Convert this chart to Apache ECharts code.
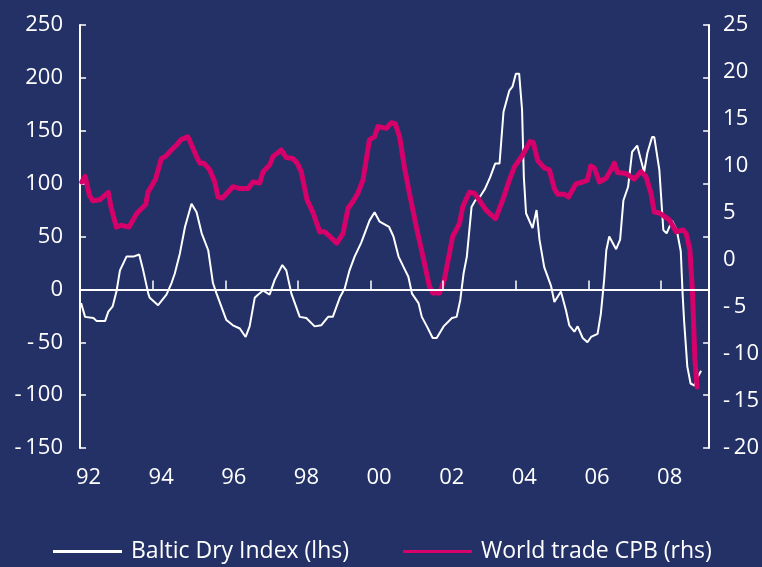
<!DOCTYPE html>
<html>
<head>
<meta charset="utf-8">
<script src="https://cdn.jsdelivr.net/npm/echarts@6/dist/echarts.min.js"></script>
<style>
  html, body { margin: 0; padding: 0; background: #243167; }
  #chart { width: 762px; height: 567px; }
</style>
</head>
<body>
<div id="chart"></div>
<script>
// Baltic Dry Index, % y/y (left axis)
const bdiYears = [1992.03,1992.14,1992.37,1992.46,1992.69,1992.78,1992.90,1993.01,1993.10,1993.28,
  1993.47,1993.63,1993.74,1993.88,1993.92,1994.15,1994.38,1994.52,1994.61,1994.75,
  1994.89,1995.07,1995.21,1995.35,1995.53,1995.66,1995.76,1996.03,1996.21,1996.40,
  1996.56,1996.67,1996.81,1996.90,1997.04,1997.22,1997.36,1997.57,1997.68,1997.82,
  1998.05,1998.23,1998.46,1998.64,1998.83,1998.96,1999.15,1999.29,1999.42,1999.56,
  1999.74,1999.97,2000.11,2000.25,2000.51,2000.63,2000.77,2000.91,2001.04,2001.14,
  2001.32,2001.41,2001.55,2001.71,2001.82,2002.01,2002.24,2002.37,2002.47,2002.56,
  2002.65,2002.78,2002.88,2003.02,2003.15,2003.29,2003.43,2003.55,2003.66,2003.82,
  2003.91,2004.00,2004.09,2004.17,2004.22,2004.28,2004.46,2004.57,2004.65,2004.78,
  2004.97,2005.06,2005.24,2005.38,2005.47,2005.61,2005.70,2005.84,2005.97,2006.07,
  2006.25,2006.34,2006.43,2006.49,2006.57,2006.76,2006.87,2006.96,2007.09,2007.20,
  2007.34,2007.43,2007.53,2007.62,2007.75,2007.81,2007.95,2008.06,2008.15,2008.30,
  2008.43,2008.54,2008.59,2008.63,2008.72,2008.81,2008.92,2009.00,2009.10];
const bdiValues = [-13,-26,-27,-30,-30,-21,-16,-1,18,31,
  31,33,18,-4,-8,-15,-5,6,15,34,
  59,81,73,53,37,6,-4,-29,-34,-37,
  -45,-35,-8,-5,-1,-5,9,23,18,-4,
  -26,-27,-35,-34,-26,-26,-8,1,18,31,
  44,65,73,64,59,50,31,21,12,-4,
  -13,-26,-35,-46,-46,-35,-27,-26,-10,15,
  31,78,84,88,95,106,119,119,168,188,
  192,204,204,170,106,72,58,75,47,21,
  3,-12,-2,-20,-34,-40,-35,-46,-50,-45,
  -42,-23,9,37,50,38,47,84,97,130,
  136,124,111,129,144,144,113,56,53,65,
  56,36,-4,-29,-73,-89,-91,-83,-77];

// World trade (CPB), % y/y (right axis)
const tradeYears = [1992.05,1992.14,1992.26,1992.35,1992.54,1992.78,1992.85,1993.00,1993.13,1993.35,
  1993.57,1993.81,1993.87,1994.08,1994.24,1994.35,1994.49,1994.65,1994.78,1994.97,
  1995.21,1995.30,1995.41,1995.57,1995.71,1995.80,1995.92,1996.21,1996.40,1996.63,
  1996.76,1996.95,1997.04,1997.22,1997.31,1997.54,1997.68,1997.86,1997.98,1998.09,
  1998.25,1998.41,1998.60,1998.74,1999.07,1999.24,1999.38,1999.51,1999.65,1999.79,
  1999.97,2000.11,2000.20,2000.43,2000.57,2000.68,2000.80,2000.93,2001.07,2001.26,
  2001.44,2001.62,2001.71,2001.90,2002.03,2002.17,2002.26,2002.45,2002.54,2002.72,
  2002.86,2003.18,2003.32,2003.44,2003.64,2003.82,2003.96,2004.19,2004.39,2004.48,
  2004.60,2004.78,2004.92,2005.06,2005.15,2005.33,2005.45,2005.65,2005.84,2005.97,
  2006.06,2006.16,2006.30,2006.48,2006.62,2006.71,2006.80,2007.03,2007.26,2007.44,
  2007.58,2007.72,2007.81,2007.95,2008.22,2008.41,2008.61,2008.69,2008.79,2008.86,
  2008.93,2008.99];
const tradeValues = [8.3,8.9,6.9,6.3,6.4,7.2,5.7,3.5,3.7,3.5,
  5.0,5.9,7.2,8.6,10.8,11.0,11.6,12.2,12.8,13.1,
  11.0,10.3,10.3,9.6,8.3,6.7,6.6,7.8,7.6,7.6,
  8.3,8.2,9.4,10.1,11.0,11.7,10.9,10.8,10.3,9.4,
  6.4,5.1,3.0,3.0,1.8,2.8,5.5,6.2,7.1,8.5,
  12.8,13.1,14.2,14.0,14.6,14.5,13.1,9.9,7.1,3.5,
  0.4,-2.8,-3.5,-3.5,-2.1,0.7,2.5,3.9,5.7,7.2,
  7.1,5.3,4.8,4.4,6.4,8.5,9.9,11.2,12.6,12.5,
  10.6,9.8,9.6,7.6,7.0,7.0,6.7,8.1,8.3,8.5,
  10.0,9.8,8.3,8.7,9.6,10.3,9.3,9.2,8.6,9.4,
  8.9,7.1,5.1,5.0,4.3,3.0,3.2,2.8,1.1,-3.2,
  -10.6,-13.5];

const seriesNames = ['Baltic Dry Index (lhs)', 'World trade CPB (rhs)'];

const BG = '#243167';
const WHITE = '#ffffff';
const PINK = '#d5006a';
const FONT = 'Open Sans';

const signed = v => (v < 0 ? '-\u2009' + Math.abs(v) : String(v));
const yearLabel = v => String(v % 100).padStart(2, '0');

const chart = echarts.init(document.getElementById('chart'), null, { renderer: 'canvas' });

chart.setOption({
  backgroundColor: BG,
  animation: false,
  textStyle: { fontFamily: FONT },
  grid: { left: 80, right: 52, top: 25, bottom: 119, containLabel: false },
  legend: {
    left: 53,
    top: 540,
    padding: 0,
    itemWidth: 69,
    itemHeight: 3,
    itemGap: 54,
    icon: 'rect',
    textStyle: { color: WHITE, fontSize: 23, fontFamily: FONT, padding: [0, 0, 0, 4] },
    data: seriesNames
  },
  xAxis: [
    {
      // axis drawn on the zero line, ticks only
      type: 'value',
      min: 1992,
      max: 2009.32,
      interval: 2,
      z: 5,
      axisLine: { show: true, onZero: true, lineStyle: { color: WHITE, width: 2 } },
      axisTick: { show: true, inside: true, length: 9, lineStyle: { color: WHITE, width: 1.5 } },
      axisLabel: { show: false },
      splitLine: { show: false }
    },
    {
      // year labels along the bottom
      type: 'value',
      min: 1992,
      max: 2009.32,
      interval: 2,
      position: 'bottom',
      axisLine: { show: false, onZero: false },
      axisTick: { show: false },
      splitLine: { show: false },
      axisLabel: {
        show: true, color: WHITE, fontSize: 22, fontFamily: FONT, margin: 19,
        padding: [0, 0, 0, 17], showMaxLabel: false,
        formatter: yearLabel
      }
    }
  ],
  yAxis: [
    {
      type: 'value',
      min: -150,
      max: 250,
      interval: 50,
      position: 'left',
      axisLine: { show: true, lineStyle: { color: WHITE, width: 2 } },
      axisTick: { show: true, inside: true, length: 6, lineStyle: { color: WHITE, width: 1.5 } },
      axisLabel: { color: WHITE, fontSize: 22, fontFamily: FONT, margin: 17, formatter: signed },
      splitLine: { show: false }
    },
    {
      // right-hand frame line carrying the left-axis tick marks
      type: 'value',
      min: -150,
      max: 250,
      interval: 50,
      position: 'right',
      axisLine: { show: true, lineStyle: { color: WHITE, width: 2 } },
      axisTick: { show: true, inside: true, length: 6, lineStyle: { color: WHITE, width: 1.5 } },
      axisLabel: { show: false },
      splitLine: { show: false }
    },
    {
      type: 'value',
      min: -20,
      max: 25,
      interval: 5,
      position: 'right',
      axisLine: { show: false },
      axisTick: { show: false },
      axisLabel: { color: WHITE, fontSize: 22, fontFamily: FONT, margin: 14, formatter: signed },
      splitLine: { show: false }
    }
  ],
  series: [
    {
      name: seriesNames[0],
      type: 'line',
      xAxisIndex: 0,
      yAxisIndex: 0,
      symbol: 'none',
      color: WHITE,
      lineStyle: { color: WHITE, width: 2 },
      data: bdiYears.map((x, i) => [x, bdiValues[i]])
    },
    {
      name: seriesNames[1],
      type: 'line',
      xAxisIndex: 0,
      yAxisIndex: 2,
      symbol: 'none',
      color: PINK,
      lineStyle: { color: PINK, width: 5, join: 'round', cap: 'round' },
      data: tradeYears.map((x, i) => [x, tradeValues[i]])
    }
  ]
});
</script>
</body>
</html>
